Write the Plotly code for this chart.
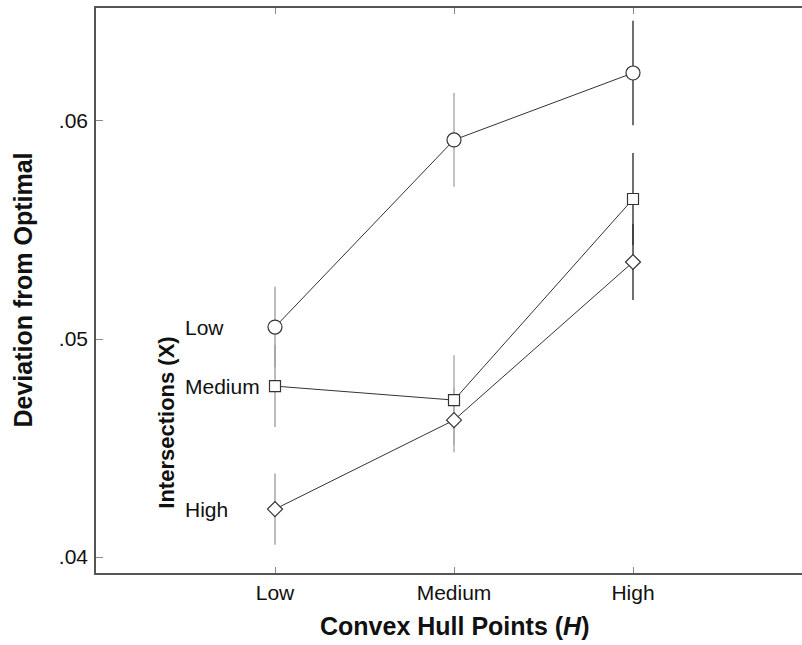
import plotly.graph_objects as go

h_levels = ["Low", "Medium", "High"]          # Convex Hull Points (H)
x_series = ["Low", "Medium", "High"]          # Intersections (X)

means = {
    "Low":    [0.05055, 0.05913, 0.06220],
    "Medium": [0.04784, 0.04720, 0.05642],
    "High":   [0.04220, 0.04628, 0.05353],
}
errors = {
    "Low":    [0.00185, 0.00215, 0.00240],
    "Medium": [0.00188, 0.00206, 0.00211],
    "High":   [0.00163, 0.00147, 0.00174],
}
symbols = {"Low": "circle", "Medium": "square", "High": "diamond"}
sizes = {"Low": 14, "Medium": 11, "High": 11.5}
err_colors = ["#a0a0a0", "#a8a8a8", "#333333"]

y_ticks = [0.04, 0.05, 0.06]
y_ticktext = [".04", ".05", ".06"]

xpos = list(range(len(h_levels)))
FONT = "Liberation Sans, Arial, Helvetica, sans-serif"
X_RANGE = [-1, 3]

fig = go.Figure()

# error bars, one trace per H level
for j, h in enumerate(h_levels):
    fig.add_trace(go.Scatter(
        x=[xpos[j]] * len(x_series),
        y=[means[s][j] for s in x_series],
        mode="markers",
        marker=dict(size=1, opacity=0),
        error_y=dict(type="data", array=[errors[s][j] for s in x_series],
                     visible=True, width=0, thickness=1.4, color=err_colors[j]),
        showlegend=False, hoverinfo="skip",
    ))

# connecting lines with open (white-filled) markers
for s in x_series:
    fig.add_trace(go.Scatter(
        x=xpos, y=means[s], mode="lines+markers",
        line=dict(color="#333333", width=1),
        marker=dict(symbol=symbols[s], size=sizes[s], color="white",
                    line=dict(width=1.2, color="#333333")),
        showlegend=False,
    ))

# series labels beside the Low-H points
for s in x_series:
    fig.add_annotation(x=-0.514, y=means[s][0], xref="x", yref="y",
                       text=s, showarrow=False, xanchor="left", yanchor="middle",
                       font=dict(family=FONT, size=21, color="#111"))

fig.add_annotation(x=-0.605, y=0.04615, xref="x", yref="y",
                   text="<b>Intersections (X)</b>", textangle=-90,
                   showarrow=False, xanchor="center", yanchor="middle",
                   font=dict(family=FONT, size=22, color="#111"))

# axis titles
fig.add_annotation(x=1, y=0, xref="x", yref="paper", yshift=-53,
                   text="<b>Convex Hull Points (<i>H</i>)</b>", showarrow=False,
                   xanchor="center", yanchor="middle",
                   font=dict(family=FONT, size=25, color="#111"))
fig.add_annotation(x=0, y=0.5, xref="paper", yref="paper", xshift=-74,
                   text="<b>Deviation from Optimal</b>", showarrow=False,
                   textangle=-90, xanchor="center", yanchor="middle",
                   font=dict(family=FONT, size=25, color="#111"))

fig.update_layout(
    width=812, height=645,
    margin=dict(l=96, r=0, t=8, b=72),
    paper_bgcolor="white", plot_bgcolor="white",
    font=dict(family=FONT, size=21, color="#111"),
    xaxis=dict(
        range=X_RANGE, tickvals=xpos, ticktext=h_levels,
        showgrid=False, zeroline=False, showline=True, linecolor="#555",
        linewidth=1.5, mirror="ticks", ticks="inside", ticklen=6,
        tickcolor="#888", tickwidth=1, automargin=False,
        tickfont=dict(family=FONT, size=21, color="#111"),
    ),
    yaxis=dict(
        range=[0.03927, 0.06518], tickvals=y_ticks, ticktext=y_ticktext,
        showgrid=False, zeroline=False, showline=True, linecolor="#555",
        linewidth=1.5, mirror=False, ticks="inside", ticklen=7,
        tickcolor="#888", tickwidth=1, automargin=False,
        ticklabelstandoff=2,
        tickfont=dict(family=FONT, size=21, color="#111"),
    ),
)

fig.write_html(
    "out.html",
    config={"displayModeBar": False},
    post_script="document.body.style.margin='0';"
                "document.body.style.overflow='hidden';",
)
